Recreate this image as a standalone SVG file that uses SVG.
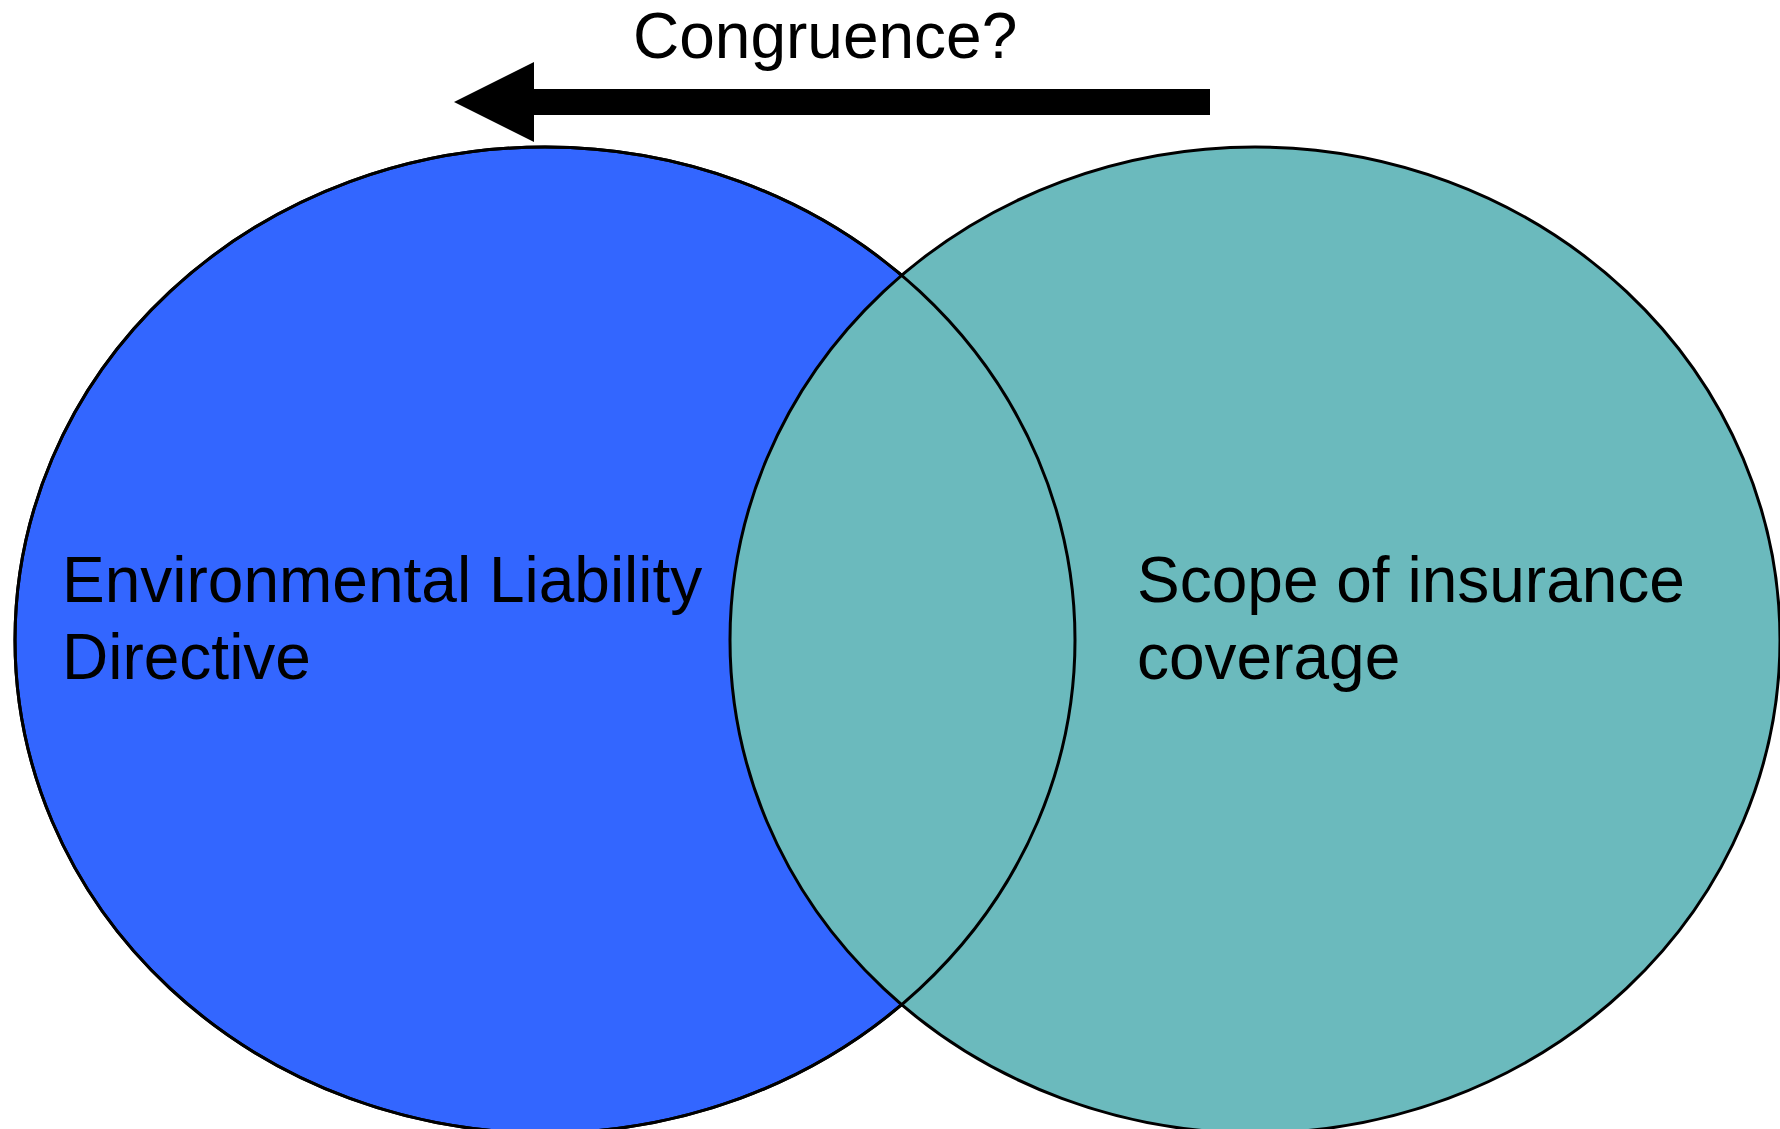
<svg xmlns="http://www.w3.org/2000/svg" width="1780" height="1129" viewBox="0 0 1780 1129">
<style>
.lbl{font-family:"Liberation Sans",Arial,sans-serif;font-size:64px;fill:#000}
.outline{fill:none;stroke:#000;stroke-width:3}
</style>
<rect width="1780" height="1129" fill="#fff"/>
<g id="node-eld">
<ellipse cx="545" cy="640" rx="530" ry="493" fill="#3366FF" stroke="#000" stroke-width="3"/>
</g>
<g id="node-insurance">
<ellipse cx="1255" cy="640" rx="525" ry="493" fill="#6BBABD" stroke="#000" stroke-width="3"/>
</g>
<ellipse class="outline" cx="545" cy="640" rx="530" ry="493"/>
<g id="labels">
<text class="lbl" x="62" y="602">Environmental Liability</text>
<text class="lbl" x="62" y="679">Directive</text>
<text class="lbl" x="1137" y="602">Scope of insurance</text>
<text class="lbl" x="1137" y="679">coverage</text>
</g>
<g id="connectors">
<polygon points="454,102 534,62 534,89 1210,89 1210,115 534,115 534,142" fill="#000"/>
<text class="lbl" x="633" y="58">Congruence?</text>
</g>
</svg>
